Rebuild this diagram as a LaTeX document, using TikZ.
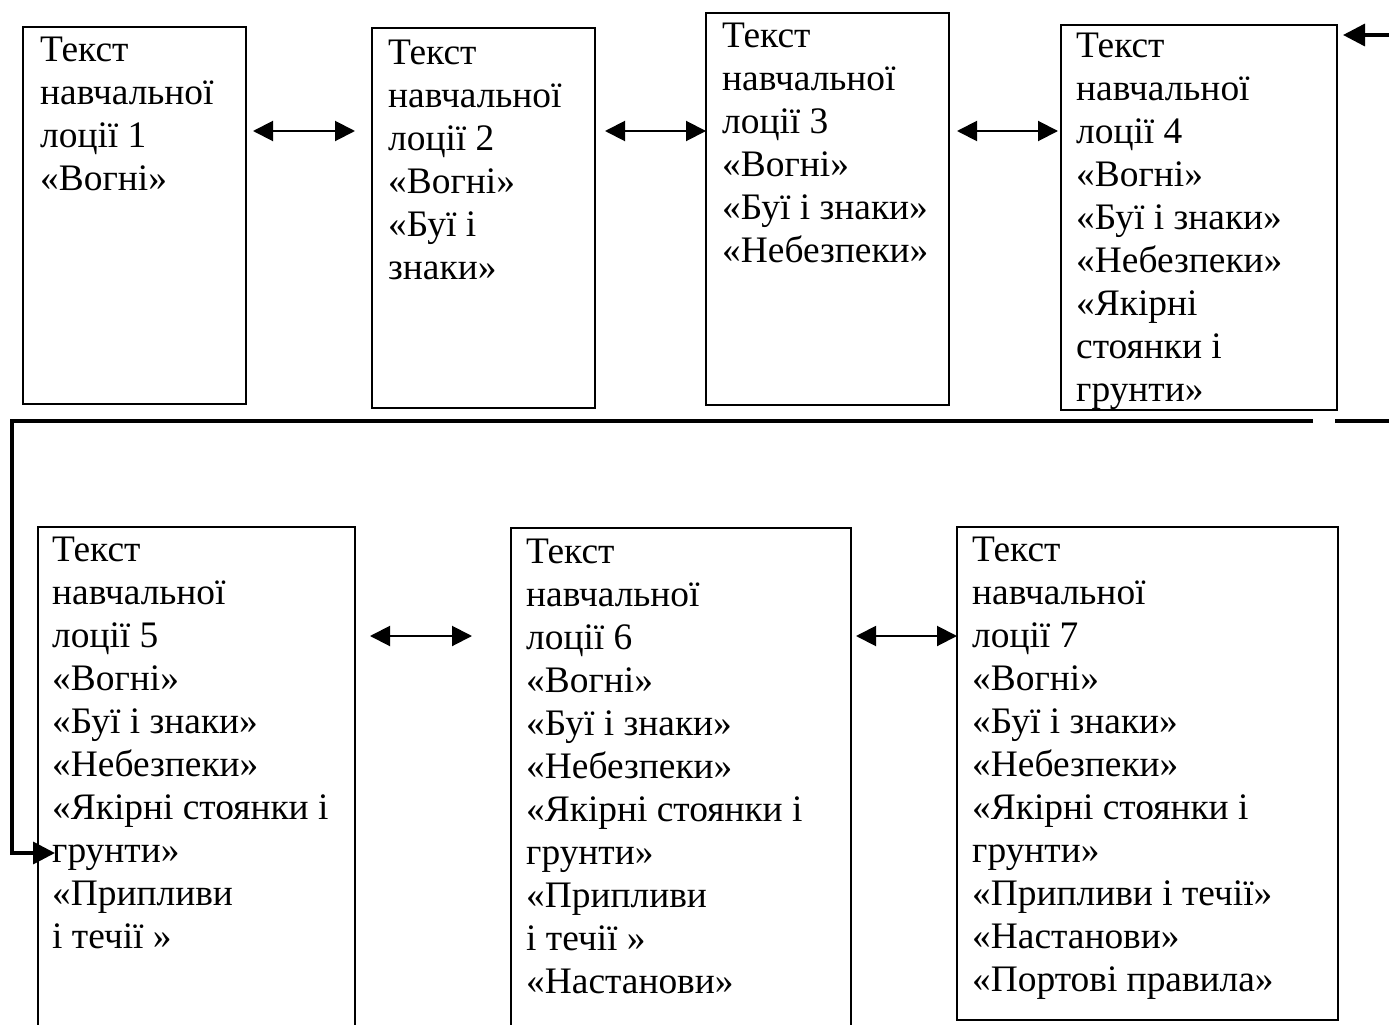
\documentclass[tikz,border=0pt]{standalone}
\usepackage{fontspec}
\setmainfont{Liberation Serif}
\usetikzlibrary{arrows.meta}
\begin{document}
\begin{tikzpicture}[x=1pt,y=-1pt,
  box/.style={draw, line width=2pt, inner sep=0pt, outer sep=0pt, anchor=north west},
  txt/.style={anchor=north west, inner sep=0pt, align=left,
    font=\fontsize{37.4}{43}\selectfont},
  link/.style={line width=2pt, {Triangle[length=20pt,width=20pt]}-{Triangle[length=20pt,width=20pt]}},
  conn/.style={line width=3.5pt},
]
\useasboundingbox (0,0) rectangle (1389,1025);
\clip (0,0) rectangle (1389,1025);

% top row of boxes
\node[box, minimum width=223pt, minimum height=377pt] (b1) at (23,27) {};
\node[box, minimum width=223pt, minimum height=380pt] (b2) at (372,28) {};
\node[box, minimum width=243pt, minimum height=392pt] (b3) at (706,13) {};
\node[box, minimum width=276pt, minimum height=385pt] (b4) at (1061,25) {};
% bottom row of boxes (the first two run past the lower edge)
\node[box, minimum width=317pt, minimum height=520pt] (b5) at (38,527) {};
\node[box, minimum width=340pt, minimum height=520pt] (b6) at (511,528) {};
\node[box, minimum width=381pt, minimum height=493pt] (b7) at (957,527) {};

% texts
\node[txt] (t1) at (40,37) {Текст\\навчальної\\лоції 1\\«Вогні»};
\node[txt] (t2) at (388,40) {Текст\\навчальної\\лоції 2\\«Вогні»\\«Буї і\\знаки»};
\node[txt] (t3) at (722,23) {Текст\\навчальної\\лоції 3\\«Вогні»\\«Буї і знаки»\\«Небезпеки»};
\node[txt] (t4) at (1076,33) {Текст\\навчальної\\лоції 4\\«Вогні»\\«Буї і знаки»\\«Небезпеки»\\«Якірні\\стоянки і\\грунти»};
\node[txt] (t5) at (52,537) {Текст\\навчальної\\лоції 5\\«Вогні»\\«Буї і знаки»\\«Небезпеки»\\«Якірні стоянки і\\грунти»\\«Припливи\\і течії »};
\node[txt] (t6) at (526,539) {Текст\\навчальної\\лоції 6\\«Вогні»\\«Буї і знаки»\\«Небезпеки»\\«Якірні стоянки і\\грунти»\\«Припливи\\і течії »\\«Настанови»};
\node[txt] (t7) at (972,537) {Текст\\навчальної\\лоції 7\\«Вогні»\\«Буї і знаки»\\«Небезпеки»\\«Якірні стоянки і\\грунти»\\«Припливи і течії»\\«Настанови»\\«Портові правила»};

% two-way links between neighbouring boxes
\coordinate (a12) at (253,131); \coordinate (a21) at (355,131);
\coordinate (a23) at (605,131); \coordinate (a32) at (706,131);
\coordinate (a34) at (957,131); \coordinate (a43) at (1058,131);
\coordinate (a56) at (370,636); \coordinate (a65) at (472,636);
\coordinate (a67) at (856,636); \coordinate (a76) at (957,636);
\draw[link] (a12) -- (a21);
\draw[link] (a23) -- (a32);
\draw[link] (a34) -- (a43);
\draw[link] (a56) -- (a65);
\draw[link] (a67) -- (a76);

% incoming arrow at the top right
\coordinate (inR) at (1392,35);
\coordinate (inL) at (1343,35);
\draw[conn, -{Triangle[length=22pt,width=22pt]}] (inR) -- (inL);

% return line from the right edge down to box 5
\coordinate (rR) at (1392,421);
\coordinate (rD) at (1313,421);
\coordinate (rC) at (12,421);
\coordinate (rB) at (12,853);
\coordinate (rE) at (55,853);
\draw[conn, dash pattern=on 57pt off 22pt] (rR) -- (rD);
\draw[conn, -{Triangle[length=22pt,width=22pt]}] (rD) -- (rC) -- (rB) -- (rE);
\end{tikzpicture}
\end{document}
